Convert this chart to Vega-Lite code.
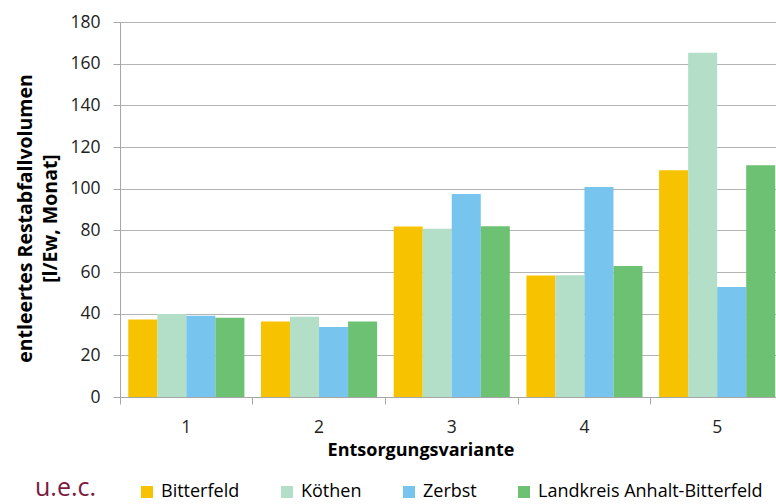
{
  "$schema": "https://vega.github.io/schema/vega-lite/v6.json",
  "autosize": {"type": "none"},
  "padding": {"left": 120, "top": 22, "right": 0, "bottom": 107},
  "width": 663.5,
  "height": 375,
  "config": {
    "font": "Open Sans",
    "view": {"stroke": null},
    "axis": {"labelColor": "#222", "titleColor": "#000", "domainColor": "#A6A6A6", "tickColor": "#A6A6A6", "gridColor": "#B4B4B4"}
  },
  "title": {
    "text": "u.e.c.",
    "orient": "bottom",
    "anchor": "start",
    "frame": "group",
    "fontSize": 25,
    "font": "Open Sans",
    "fontWeight": "normal",
    "color": "#7A1B3E",
    "dx": -85,
    "offset": -25
  },
  "data": {
    "values": [
      {"variante": "1", "region": "Bitterfeld", "wert": 37.2},
      {"variante": "1", "region": "Köthen", "wert": 39.9},
      {"variante": "1", "region": "Zerbst", "wert": 39.0},
      {"variante": "1", "region": "Landkreis Anhalt-Bitterfeld", "wert": 38.1},
      {"variante": "2", "region": "Bitterfeld", "wert": 36.3},
      {"variante": "2", "region": "Köthen", "wert": 38.5},
      {"variante": "2", "region": "Zerbst", "wert": 33.6},
      {"variante": "2", "region": "Landkreis Anhalt-Bitterfeld", "wert": 36.3},
      {"variante": "3", "region": "Bitterfeld", "wert": 81.8},
      {"variante": "3", "region": "Köthen", "wert": 80.8},
      {"variante": "3", "region": "Zerbst", "wert": 97.5},
      {"variante": "3", "region": "Landkreis Anhalt-Bitterfeld", "wert": 82.0},
      {"variante": "4", "region": "Bitterfeld", "wert": 58.3},
      {"variante": "4", "region": "Köthen", "wert": 58.5},
      {"variante": "4", "region": "Zerbst", "wert": 100.8},
      {"variante": "4", "region": "Landkreis Anhalt-Bitterfeld", "wert": 62.9},
      {"variante": "5", "region": "Bitterfeld", "wert": 108.8},
      {"variante": "5", "region": "Köthen", "wert": 165.3},
      {"variante": "5", "region": "Zerbst", "wert": 52.8},
      {"variante": "5", "region": "Landkreis Anhalt-Bitterfeld", "wert": 111.2}
    ]
  },
  "mark": {"type": "bar"},
  "encoding": {
    "x": {
      "field": "variante",
      "type": "nominal",
      "scale": {"paddingInner": 0.125, "paddingOuter": 0.0625},
      "axis": {
        "title": "Entsorgungsvariante",
        "labelAngle": 0,
        "bandPosition": -0.0714,
        "labelOffset": 0,
        "labelFontSize": 17.5,
        "labelPadding": 14,
        "tickSize": 7,
        "titleFontSize": 18,
        "titleFontWeight": "bold",
        "titleX": 300.5,
        "titleAlign": "center",
        "titlePadding": 6
      }
    },
    "xOffset": {
      "field": "region",
      "type": "nominal",
      "sort": ["Bitterfeld", "Köthen", "Zerbst", "Landkreis Anhalt-Bitterfeld"],
      "scale": {"paddingInner": 0, "paddingOuter": 0}
    },
    "y": {
      "field": "wert",
      "type": "quantitative",
      "scale": {"domain": [0, 180], "nice": false},
      "axis": {
        "title": ["entleertes Restabfallvolumen", "[l/Ew, Monat]"],
        "values": [0, 20, 40, 60, 80, 100, 120, 140, 160, 180],
        "labelFontSize": 17.5,
        "labelPadding": 13,
        "tickSize": 7,
        "titleFontSize": 19.5,
        "titleFontWeight": "bold",
        "titleLineHeight": 25,
        "titlePadding": 9,
        "titleY": 196,
        "grid": true
      }
    },
    "color": {
      "field": "region",
      "type": "nominal",
      "sort": ["Bitterfeld", "Köthen", "Zerbst", "Landkreis Anhalt-Bitterfeld"],
      "scale": {
        "domain": ["Bitterfeld", "Köthen", "Zerbst", "Landkreis Anhalt-Bitterfeld"],
        "range": ["#F7C300", "#B3DEC7", "#77C4EF", "#6CC172"]
      },
      "legend": {
        "title": null,
        "orient": "none",
        "direction": "horizontal",
        "legendX": 18,
        "legendY": 461,
        "symbolType": "square",
        "symbolSize": 144,
        "symbolStrokeWidth": 0,
        "labelFontSize": 18,
        "labelOffset": 5,
        "columnPadding": 38,
        "labelLimit": 400
      }
    }
  }
}
